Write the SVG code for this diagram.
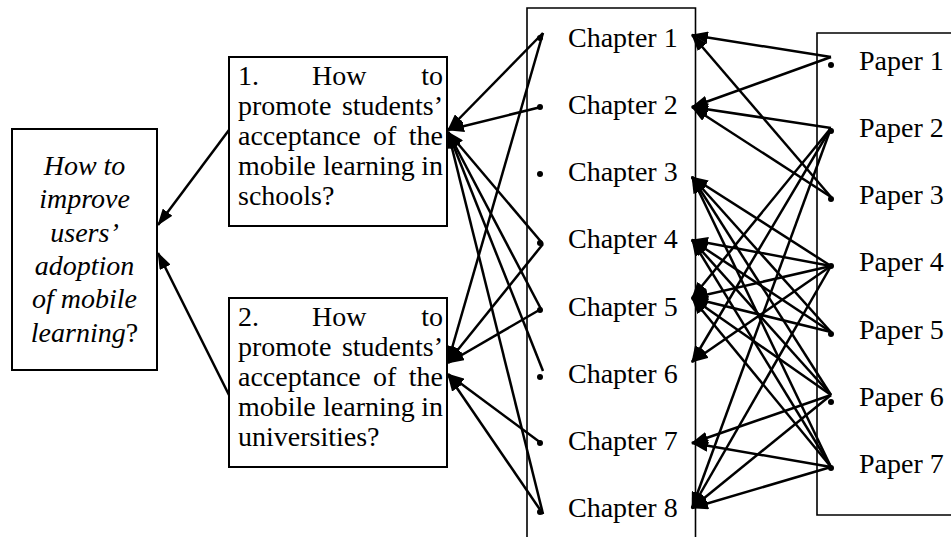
<svg xmlns="http://www.w3.org/2000/svg" width="951" height="537" viewBox="0 0 951 537">
<style>
text{font-family:"Liberation Serif","Times New Roman",serif;font-size:28px;fill:#000}
.it{font-style:italic}
.box{fill:#fff;stroke:#000;stroke-width:2}
.col{fill:none;stroke:#000;stroke-width:1.6}
.c{fill:none;stroke:#000;stroke-width:2.5;marker-end:url(#ah)}
.dot{fill:#000}
.e{text-anchor:end}
</style>
<defs>
<marker id="ah" viewBox="0 0 17 12" refX="16" refY="6" markerWidth="17" markerHeight="12" markerUnits="userSpaceOnUse" orient="auto">
<path d="M0,0 L17,6 L0,12 z" fill="#000"/>
</marker>
</defs>
<rect width="951" height="537" fill="#fff"/>

<g id="main">
<rect class="box" x="12" y="129" width="145" height="241"/>
<text x="84.5" y="175" text-anchor="middle" class="it">How to</text>
<text x="84.5" y="208" text-anchor="middle" class="it">improve</text>
<text x="84.5" y="242" text-anchor="middle" class="it">users’</text>
<text x="84.5" y="275" text-anchor="middle" class="it">adoption</text>
<text x="84.5" y="308" text-anchor="middle" class="it">of mobile</text>
<text x="84.5" y="342" text-anchor="middle"><tspan class="it">learning</tspan>?</text>
</g>

<g id="q1">
<rect class="box" x="229" y="57" width="218" height="169"/>
<text x="238" y="85">1.</text><text x="312" y="85">How</text><text class="e" x="443" y="85">to</text>
<text x="238" y="115">promote</text><text class="e" x="443" y="115">students’</text>
<text x="238" y="145">acceptance</text><text x="373" y="145">of</text><text class="e" x="443" y="145">the</text>
<text x="238" y="175">mobile</text><text x="323" y="175">learning</text><text class="e" x="443" y="175">in</text>
<text x="238" y="205">schools?</text>
</g>

<g id="q2">
<rect class="box" x="229" y="298" width="218" height="169"/>
<text x="238" y="326">2.</text><text x="312" y="326">How</text><text class="e" x="443" y="326">to</text>
<text x="238" y="356">promote</text><text class="e" x="443" y="356">students’</text>
<text x="238" y="386">acceptance</text><text x="373" y="386">of</text><text class="e" x="443" y="386">the</text>
<text x="238" y="416">mobile</text><text x="323" y="416">learning</text><text class="e" x="443" y="416">in</text>
<text x="238" y="446">universities?</text>
</g>

<g id="chapters">
<path class="col" d="M527,540 L527,8 L695.5,8 L695.5,540"/>
<circle class="dot" cx="540" cy="38" r="3"/><text x="568" y="47">Chapter 1</text>
<circle class="dot" cx="540" cy="107" r="3"/><text x="568" y="114">Chapter 2</text>
<circle class="dot" cx="540" cy="174" r="3"/><text x="568" y="181">Chapter 3</text>
<circle class="dot" cx="540" cy="243" r="3"/><text x="568" y="248">Chapter 4</text>
<circle class="dot" cx="540" cy="310" r="3"/><text x="568" y="316">Chapter 5</text>
<circle class="dot" cx="540" cy="377" r="3"/><text x="568" y="383">Chapter 6</text>
<circle class="dot" cx="540" cy="443" r="3"/><text x="568" y="450">Chapter 7</text>
<circle class="dot" cx="540" cy="512" r="3"/><text x="568" y="517">Chapter 8</text>
</g>

<g id="papers">
<path class="col" d="M960,33 L817,33 L817,515 L960,515"/>
<circle class="dot" cx="831" cy="65" r="3"/><text x="859" y="70">Paper 1</text>
<circle class="dot" cx="831" cy="131" r="3"/><text x="859" y="137">Paper 2</text>
<circle class="dot" cx="831" cy="199" r="3"/><text x="859" y="204">Paper 3</text>
<circle class="dot" cx="831" cy="266" r="3"/><text x="859" y="271">Paper 4</text>
<circle class="dot" cx="831" cy="334" r="3"/><text x="859" y="339">Paper 5</text>
<circle class="dot" cx="831" cy="402" r="3"/><text x="859" y="406">Paper 6</text>
<circle class="dot" cx="831" cy="468" r="3"/><text x="859" y="473">Paper 7</text>
</g>

<g id="connectors">
<path class="c" d="M229,130 L158,225"/>
<path class="c" d="M229,395 L158,253"/>

<path class="c" d="M543,33 L448,130"/>
<path class="c" d="M541,107 L448,130"/>
<path class="c" d="M543,244 L448,132"/>
<path class="c" d="M541,309 L448,132"/>
<path class="c" d="M543,371 L448,132"/>
<path class="c" d="M543,514 L448,132"/>
<path class="c" d="M543,33 L448,362"/>
<path class="c" d="M543,244 L448,362"/>
<path class="c" d="M541,309 L448,363"/>
<path class="c" d="M541,443 L448,374"/>
<path class="c" d="M543,514 L448,375"/>

<path class="c" d="M831,57 L692,35"/>
<path class="c" d="M831,57 L692,107"/>
<path class="c" d="M831,128 L692,107"/>
<path class="c" d="M831,128 L692,298"/>
<path class="c" d="M831,128 L692,362"/>
<path class="c" d="M831,128 L692,508"/>
<path class="c" d="M831,197 L692,35"/>
<path class="c" d="M831,197 L692,107"/>
<path class="c" d="M831,266 L692,177"/>
<path class="c" d="M831,266 L692,240"/>
<path class="c" d="M831,266 L692,298"/>
<path class="c" d="M831,266 L692,362"/>
<path class="c" d="M831,266 L692,508"/>
<path class="c" d="M831,332 L692,177"/>
<path class="c" d="M831,332 L692,240"/>
<path class="c" d="M831,332 L692,298"/>
<path class="c" d="M831,395 L692,177"/>
<path class="c" d="M831,395 L692,240"/>
<path class="c" d="M831,395 L692,298"/>
<path class="c" d="M831,395 L692,443"/>
<path class="c" d="M831,395 L692,508"/>
<path class="c" d="M831,467 L692,177"/>
<path class="c" d="M831,467 L692,240"/>
<path class="c" d="M831,467 L692,298"/>
<path class="c" d="M831,467 L692,443"/>
<path class="c" d="M831,467 L692,508"/>
</g>
</svg>
